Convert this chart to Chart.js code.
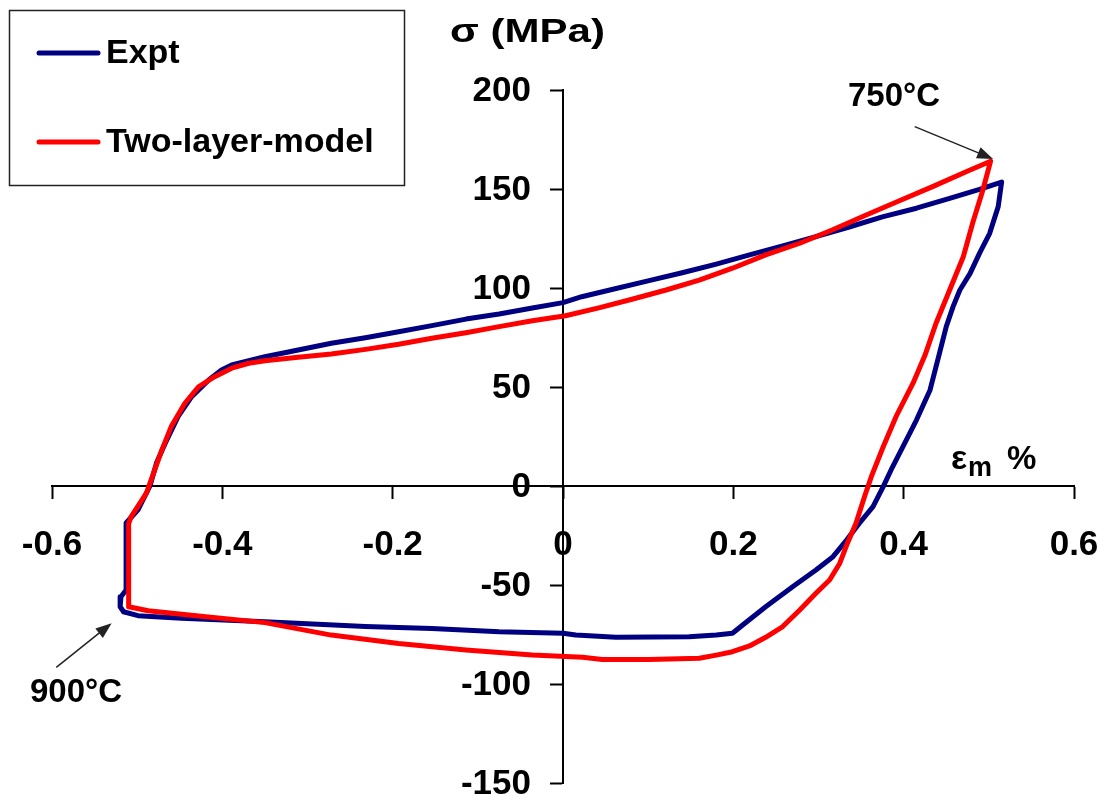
<!DOCTYPE html>
<html>
<head>
<meta charset="utf-8">
<script src="https://cdn.jsdelivr.net/npm/chart.js@4"></script>
<style>
  body { margin: 0; background: #fff; }
  #wrap { width: 1109px; height: 803px; }
</style>
</head>
<body>
<div id="wrap"><canvas id="loopChart"></canvas></div>
<script>
// hysteresis loop (strain in %, stress in MPa)
const exptStrain = [-0.516, -0.499, -0.448, -0.350, -0.232, -0.154, -0.075, 0, 0.015, 0.062, 0.148, 0.180, 0.199,
  0.211, 0.238, 0.270, 0.297, 0.317, 0.333, 0.348, 0.364, 0.376, 0.387, 0.399, 0.415, 0.431, 0.442, 0.450, 0.458,
  0.466, 0.478, 0.489, 0.501, 0.511, 0.515,
  0.489, 0.454, 0.415, 0.375, 0.336, 0.297, 0.258, 0.219, 0.180, 0.140, 0.101, 0.055, 0.022, 0, -0.036, -0.075,
  -0.114, -0.154, -0.193, -0.232, -0.272, -0.311, -0.350, -0.369, -0.389, -0.401, -0.416, -0.436, -0.452, -0.467,
  -0.477, -0.485, -0.499, -0.513, -0.513, -0.519, -0.520, -0.516];
const exptStress = [-63.5, -65.5, -66.8, -68.5, -71, -72, -73.6, -74.4, -75.3, -76.4, -76.1, -75.3, -74.4,
  -70.2, -61, -50.8, -42.4, -35.7, -27.3, -18.8, -10.4, -0.3, 9.7, 19.8, 33.3, 48.5, 67, 80.5, 90.6,
  99, 107.4, 117.5, 127.6, 141.1, 153.5,
  149.8, 145.3, 140.3, 135.9, 130.8, 125.9, 121.2, 116.7, 112.1, 107.7, 103.7, 99, 95.6, 92.6, 89.9, 86.9,
  84.3, 81, 77.9, 74.9, 72.1, 68.7, 65.3, 63.3, 61.1, 58.6, 53.5, 45.1, 35, 21.6,
  12, 0, -12, -18.7, -52.5, -55.9, -61, -63.5];

const modelStrain = [-0.510, -0.487, -0.428, -0.350, -0.272, -0.193, -0.114, -0.036, 0.023, 0.046, 0.101, 0.160,
  0.180, 0.199, 0.219, 0.238, 0.258, 0.278, 0.297, 0.313, 0.325, 0.334, 0.344, 0.354, 0.362, 0.376, 0.391, 0.411,
  0.425, 0.438, 0.454, 0.470, 0.481, 0.493, 0.502,
  0.474, 0.434, 0.395, 0.356, 0.316, 0.278, 0.238, 0.199, 0.160, 0.121, 0.081, 0.042, 0.003, -0.036, -0.075,
  -0.114, -0.154, -0.193, -0.232, -0.272, -0.311, -0.350, -0.369, -0.389, -0.409, -0.428, -0.444, -0.460, -0.471,
  -0.489, -0.507, -0.510, -0.510];
const modelStress = [-61, -63, -65.7, -69, -75.3, -79.5, -82.8, -85.4, -86.5, -87.6, -87.6, -87,
  -85.4, -83.7, -80.8, -76.4, -71, -62.6, -54.2, -47.5, -39, -28.9, -18.8, -5.4, 4.7, 19.8, 35, 51.9,
  66, 82.2, 99, 115.8, 132.8, 149.5, 164,
  158.8, 151.2, 144.1, 136.9, 129.3, 122.6, 116.7, 110, 104, 99, 94.3, 90, 86, 83.5, 80.5,
  77.4, 74.6, 71.6, 69, 66.7, 65, 63.3, 62, 59.5, 55.2, 50.1, 41.8, 30, 18.2,
  -3.5, -15.5, -19, -61];

const seriesNames = ['Expt', 'Two-layer-model'];
const seriesColors = ['#000080', '#ff0000'];

const xRange = [-0.6, 0.6, 0.2];
const yRange = [-150, 200, 50];

function toPoints(xs, ys) {
  return xs.map((x, i) => ({ x: x, y: ys[i] }));
}

const FONT = '"Liberation Sans", Arial, sans-serif';

function drawArrow(ctx, x0, y0, x1, y1) {
  const a = Math.atan2(y1 - y0, x1 - x0);
  ctx.beginPath();
  ctx.moveTo(x0, y0);
  ctx.lineTo(x1 - 12 * Math.cos(a), y1 - 12 * Math.sin(a));
  ctx.stroke();
  ctx.beginPath();
  ctx.moveTo(x1, y1);
  ctx.lineTo(x1 - 16 * Math.cos(a) + 6 * Math.sin(a), y1 - 16 * Math.sin(a) - 6 * Math.cos(a));
  ctx.lineTo(x1 - 16 * Math.cos(a) - 6 * Math.sin(a), y1 - 16 * Math.sin(a) + 6 * Math.cos(a));
  ctx.closePath();
  ctx.fill();
}

// tick labels sit next to the crossing axes, so they are drawn here from the scales' own ticks
const extras = {
  id: 'extras',
  afterDraw(chart) {
    const ctx = chart.ctx;
    const xs = chart.scales.x, ys = chart.scales.y;
    const x0 = xs.getPixelForValue(0), y0 = ys.getPixelForValue(0);
    ctx.save();
    ctx.fillStyle = '#000';

    ctx.font = 'bold 35px ' + FONT;
    ctx.textBaseline = 'middle';
    ctx.textAlign = 'center';
    xs.ticks.forEach(t => {
      ctx.fillText(String(Number(t.value.toFixed(1))), xs.getPixelForValue(t.value), y0 + 59);
    });
    ctx.textAlign = 'right';
    ys.ticks.forEach(t => {
      ctx.fillText(String(t.value), x0 - 32, ys.getPixelForValue(t.value) + 1);
    });

    // axis titles
    ctx.textBaseline = 'alphabetic';
    ctx.textAlign = 'left';
    ctx.font = 'bold 34px ' + FONT;
    const title = 'σ (MPa)';
    const w = ctx.measureText(title).width;
    ctx.save();
    ctx.translate(450, 42);
    ctx.scale(155 / w, 1);
    ctx.fillText(title, 0, 0);
    ctx.restore();

    ctx.font = 'bold 34px ' + FONT;
    ctx.fillText('ε', 951, 469);
    ctx.font = 'bold 27px ' + FONT;
    ctx.fillText('m', 968, 476);
    ctx.font = 'bold 33px ' + FONT;
    ctx.fillText('%', 1007, 469);

    // temperature marks
    ctx.font = 'bold 33px ' + FONT;
    ctx.fillText('750°C', 848, 106);
    ctx.fillText('900°C', 30, 702);
    ctx.fillStyle = '#222';
    ctx.strokeStyle = '#222';
    ctx.lineWidth = 1.5;
    drawArrow(ctx, xs.getPixelForValue(0.413), ys.getPixelForValue(181.5),
      xs.getPixelForValue(0.505), ys.getPixelForValue(165.2));
    drawArrow(ctx, xs.getPixelForValue(-0.595), ys.getPixelForValue(-91.6),
      xs.getPixelForValue(-0.530), ys.getPixelForValue(-69.3));

    // legend box
    ctx.strokeRect(9.5, 10.5, 395, 175);
    ctx.font = 'bold 34px ' + FONT;
    ctx.textBaseline = 'middle';
    chart.data.datasets.forEach((ds, i) => {
      const y = 53 + i * 89;
      ctx.strokeStyle = ds.borderColor;
      ctx.lineWidth = 5;
      ctx.lineCap = 'round';
      ctx.beginPath();
      ctx.moveTo(39, y);
      ctx.lineTo(98, y);
      ctx.stroke();
      ctx.fillStyle = '#000';
      ctx.fillText(ds.label, 106, y + 1);
    });
    ctx.restore();
  }
};

new Chart(document.getElementById('loopChart'), {
  type: 'scatter',
  data: {
    datasets: [{
      label: seriesNames[0],
      data: toPoints(exptStrain, exptStress),
      borderColor: seriesColors[0],
      backgroundColor: seriesColors[0],
      order: 2
    }, {
      label: seriesNames[1],
      data: toPoints(modelStrain, modelStress),
      borderColor: seriesColors[1],
      backgroundColor: seriesColors[1],
      order: 1
    }]
  },
  options: {
    responsive: true,
    maintainAspectRatio: false,
    animation: false,
    showLine: true,
    layout: { padding: { left: 52, right: 35, top: 90, bottom: 20 } },
    elements: {
      point: { radius: 0, hoverRadius: 0 },
      line: { borderWidth: 5, tension: 0, borderJoinStyle: 'round', borderCapStyle: 'round', fill: false }
    },
    scales: {
      x: {
        type: 'linear',
        position: { y: 0 },
        min: xRange[0], max: xRange[1],
        ticks: { stepSize: xRange[2], display: false },
        grid: { drawOnChartArea: false, tickLength: 12, tickColor: '#000', tickWidth: 2 },
        border: { display: true, color: '#000', width: 2 }
      },
      y: {
        type: 'linear',
        position: { x: 0 },
        min: yRange[0], max: yRange[1],
        ticks: { stepSize: yRange[2], display: false },
        grid: { drawOnChartArea: false, tickLength: 12, tickColor: '#000', tickWidth: 2 },
        border: { display: true, color: '#000', width: 2 }
      }
    },
    plugins: {
      legend: { display: false },
      tooltip: { enabled: false }
    }
  },
  plugins: [extras]
});
</script>
</body>
</html>
